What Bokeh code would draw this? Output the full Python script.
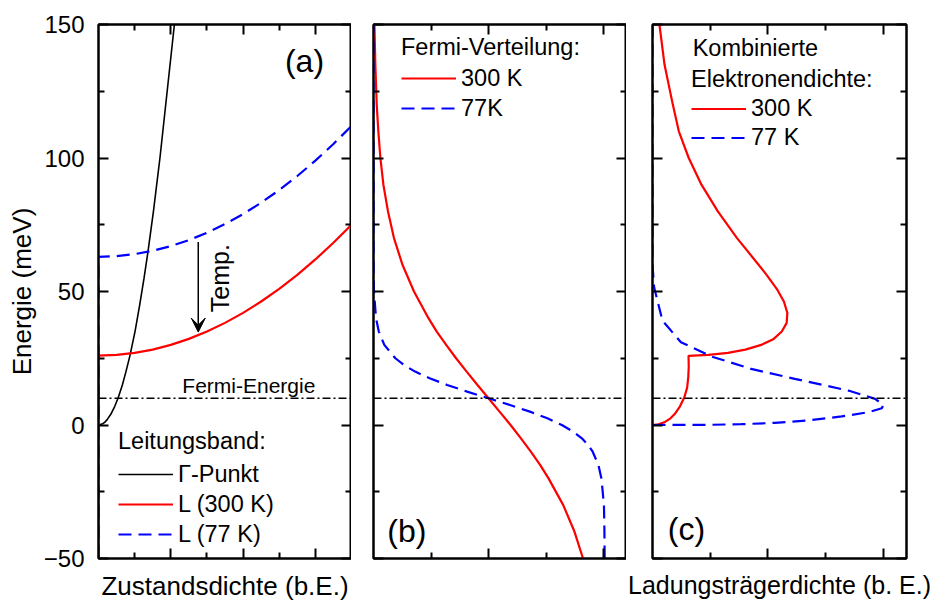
from bokeh.plotting import figure
from bokeh.models import (Range1d, LinearAxis, FixedTicker, Span, Label, Arrow,
                          VeeHead, Legend, LegendItem)
from bokeh.layouts import row
from bokeh.embed import file_html
from bokeh.resources import INLINE

FONT = "Liberation Sans"
RED = "#FF0000"
BLUE = "#0000FF"

# ---------------- data ----------------
# (a) density of states (arb. units) vs energy (meV)
gamma_E   = [0, 0.5, 1, 2, 4, 7, 10, 15, 20, 26, 35, 45, 55, 65, 80, 100, 125, 150]
gamma_dos = [0, 0.12, 0.17, 0.24, 0.34, 0.45, 0.54, 0.66, 0.76, 0.87, 1.01, 1.14,
             1.26, 1.37, 1.52, 1.70, 1.90, 2.10]
L300_dos = [0, 0, 0.5, 1, 1.5, 2, 2.5, 3, 3.5, 4, 4.5, 5, 5.5, 6, 6.5, 7]
L300_E   = [-50, 26, 26.25, 27, 28.25, 30, 32.25, 35, 38.25, 42, 46.25, 51, 56.25,
            62, 68.25, 75]
L77_dos  = [0, 0, 0.5, 1, 1.5, 2, 2.5, 3, 3.5, 4, 4.5, 5, 5.5, 6, 6.5, 7]
L77_E    = [-50, 63, 63.25, 64, 65.25, 67, 69.25, 72, 75.25, 79, 83.25, 88, 93.25,
            99, 105.25, 112]

# (b) Fermi distribution
f300_E = [-50, -40, -30, -20, -15, -10, -5, 0, 5, 10, 15, 20, 25, 30, 35, 40, 50,
          60, 70, 80, 90, 100, 110, 120, 135, 150]
f300   = [0.911, 0.874, 0.825, 0.761, 0.725, 0.684, 0.641, 0.596, 0.548, 0.500,
          0.452, 0.405, 0.359, 0.316, 0.275, 0.239, 0.176, 0.126, 0.089, 0.063,
          0.043, 0.030, 0.021, 0.014, 0.008, 0.004]
f77_E = [-50, -40, -30, -20, -15, -10, -7.5, -5, -2.5, 0, 2.5, 5, 7.5, 10, 12.5,
         15, 17.5, 20, 22.5, 25, 30, 35, 40, 50, 60, 150]
f77   = [1.005, 1.004, 1.002, 0.991, 0.978, 0.953, 0.933, 0.906, 0.868, 0.819,
         0.756, 0.680, 0.593, 0.500, 0.407, 0.320, 0.244, 0.181, 0.132, 0.095,
         0.047, 0.023, 0.011, 0.002, 0.000, 0.000]

# (c) combined electron density
n300_E = [0, 0.25, 1, 2.5, 4.2, 7, 10.4, 14, 18, 22, 25.9, 26.25, 27, 28.25, 30,
          32.25, 35, 38.25, 42, 46.25, 51, 56.25, 62, 70, 80, 90, 100, 110, 120,
          135, 150]
n300   = [0, 0.026, 0.051, 0.078, 0.097, 0.119, 0.138, 0.150, 0.155, 0.157, 0.156,
          0.242, 0.327, 0.402, 0.471, 0.525, 0.560, 0.581, 0.584, 0.569, 0.538,
          0.494, 0.441, 0.366, 0.283, 0.212, 0.157, 0.114, 0.088, 0.052, 0.030]
n77_E = [0, 0.07, 0.3, 0.8, 1.7, 3.2, 4.8, 6.3, 7.5, 9.8, 12.9, 17.3, 21, 25.7,
         31, 39.1, 51.6, 60, 150]
n77   = [0, 0.239, 0.384, 0.529, 0.674, 0.819, 0.935, 0.993, 1.0, 0.964, 0.848,
         0.616, 0.427, 0.254, 0.123, 0.043, 0.007, 0, 0]

E_fermi = 10
y_ticks = [-50, 0, 50, 100, 150]
y_minor = [-25, 25, 75, 125]
xa_ticks, xa_minor = [2, 4, 6], [1, 3, 5]
xb_ticks, xb_minor = [0.5, 1.0], [0.25, 0.75]


def style_axis(ax, labels, label_size="26px"):
    ax.axis_line_color = "black"
    ax.axis_line_width = 2
    ax.major_tick_line_color = "black"
    ax.minor_tick_line_color = "black"
    ax.major_tick_line_width = 2
    ax.minor_tick_line_width = 2
    ax.major_tick_in = 10
    ax.major_tick_out = 0
    ax.minor_tick_in = 6
    ax.minor_tick_out = 0
    ax.axis_label_text_font = FONT
    ax.axis_label_text_font_size = label_size
    ax.axis_label_text_font_style = "normal"
    ax.axis_label_text_color = "black"
    if labels:
        ax.major_label_text_font = FONT
        ax.major_label_text_font_size = "24px"
        ax.major_label_text_color = "black"
        ax.major_label_standoff = 14
    else:
        ax.major_label_text_font_size = "0px"
        ax.major_label_standoff = 0


def make_fig(xr, xt, xm, fw, bl, br, ylabels, ylabel=None, xlabel=None,
             xlabel_size="26px"):
    p = figure(frame_width=fw, frame_height=534, x_range=Range1d(*xr),
               y_range=Range1d(-50, 150), output_backend="svg",
               toolbar_location=None, min_border_left=bl, min_border_right=br,
               min_border_top=24, min_border_bottom=44)
    p.xgrid.visible = False
    p.ygrid.visible = False
    p.outline_line_color = "black"
    p.outline_line_width = 2
    p.background_fill_color = "white"
    p.border_fill_color = "white"
    xtk = FixedTicker(ticks=xt, minor_ticks=xm)
    ytk = FixedTicker(ticks=y_ticks, minor_ticks=y_minor)
    p.xaxis.ticker = xtk
    p.yaxis.ticker = ytk
    style_axis(p.xaxis[0], False, xlabel_size)
    style_axis(p.yaxis[0], ylabels)
    if xlabel:
        p.xaxis.axis_label = xlabel
        p.xaxis.axis_label_standoff = 12
    if ylabel:
        p.yaxis.axis_label = ylabel
        p.yaxis.axis_label_standoff = 4
    top = LinearAxis(ticker=xtk)
    style_axis(top, False)
    p.add_layout(top, "above")
    right = LinearAxis(ticker=ytk)
    style_axis(right, False)
    p.add_layout(right, "right")
    p.add_layout(Span(location=E_fermi, dimension="width", line_color="black",
                      line_width=1.5, line_dash="8 3 2 3"))
    return p


def text(p, x, y, s, size, align="center", baseline="middle", angle=0.0):
    p.add_layout(Label(x=x, y=y, text=s, angle=angle, text_align=align,
                       text_baseline=baseline, text_font=FONT,
                       text_font_size=size, text_color="black"))


def make_legend(items, title, loc, ts, row_h):
    return Legend(items=items, title=title, location=loc, padding=0, margin=0,
                  spacing=0, glyph_width=55, glyph_height=row_h,
                  label_height=row_h, label_standoff=5,
                  label_text_font=FONT, label_text_font_size="23.5px",
                  label_text_color="black",
                  title_text_font=FONT, title_text_font_size="23.5px",
                  title_text_font_style="normal", title_text_color="black",
                  title_standoff=ts,
                  border_line_color=None, background_fill_alpha=0)


# ---------------- panel (a) ----------------
pa = make_fig((0, 7), xa_ticks, xa_minor, 253, 98, 0, True,
              ylabel="Energie (meV)", xlabel="Zustandsdichte (b.E.)")
rg = pa.line(gamma_dos, gamma_E, line_color="black", line_width=1.6)
rl3 = pa.line(L300_dos, L300_E, line_color=RED, line_width=2.2)
rl7 = pa.line(L77_dos, L77_E, line_color=BLUE, line_width=2.2, line_dash="13 7")
pa.add_layout(Arrow(x_start=2.76, y_start=68.5, x_end=2.76, y_end=34.8,
                    line_color="black", line_width=1.5,
                    end=VeeHead(size=14, fill_color="black", line_color="black")))
text(pa, 3.35, 55, "Temp.", "25px", angle=1.5708)
text(pa, 4.16, 14.9, "Fermi-Energie", "21px", baseline="alphabetic")
text(pa, 5.7, 136.5, "(a)", "32px")
pa.add_layout(make_legend([LegendItem(label="\u0393-Punkt", renderers=[rg]),
                           LegendItem(label="L (300 K)", renderers=[rl3]),
                           LegendItem(label="L (77 K)", renderers=[rl7])],
                          "Leitungsband:", (20, 9), 4, 30))

# ---------------- panel (b) ----------------
pb = make_fig((0, 1.1), xb_ticks, xb_minor, 253, 22, 0, False)
rb3 = pb.line(f300, f300_E, line_color=RED, line_width=2.2)
rb7 = pb.line(f77, f77_E, line_color=BLUE, line_width=2.2, line_dash="13 7")
text(pb, 0.145, -39.8, "(b)", "32px")
pb.add_layout(make_legend([LegendItem(label="300 K", renderers=[rb3]),
                           LegendItem(label="77K", renderers=[rb7])],
                          "Fermi-Verteilung:", (28, 435), 2, 30))

# ---------------- panel (c) ----------------
pc = make_fig((0, 1.1), xb_ticks, xb_minor, 254, 26, 35, False,
              xlabel="Ladungstr\u00e4gerdichte (b. E.)", xlabel_size="25px")
rc3 = pc.line(n300, n300_E, line_color=RED, line_width=2.2)
rc7 = pc.line(n77, n77_E, line_color=BLUE, line_width=2.2, line_dash="13 7")
text(pc, 0.147, -39.1, "(c)", "32px")
text(pc, 0.174, 141.3, "Kombinierte", "23.5px", align="left")
pc.add_layout(make_legend([LegendItem(label="300 K", renderers=[rc3]),
                           LegendItem(label="77 K", renderers=[rc7])],
                          "Elektronendichte:", (39, 406), 1, 29))

layout = row(pa, pb, pc)
open("out.html", "w").write(file_html(layout, INLINE))
